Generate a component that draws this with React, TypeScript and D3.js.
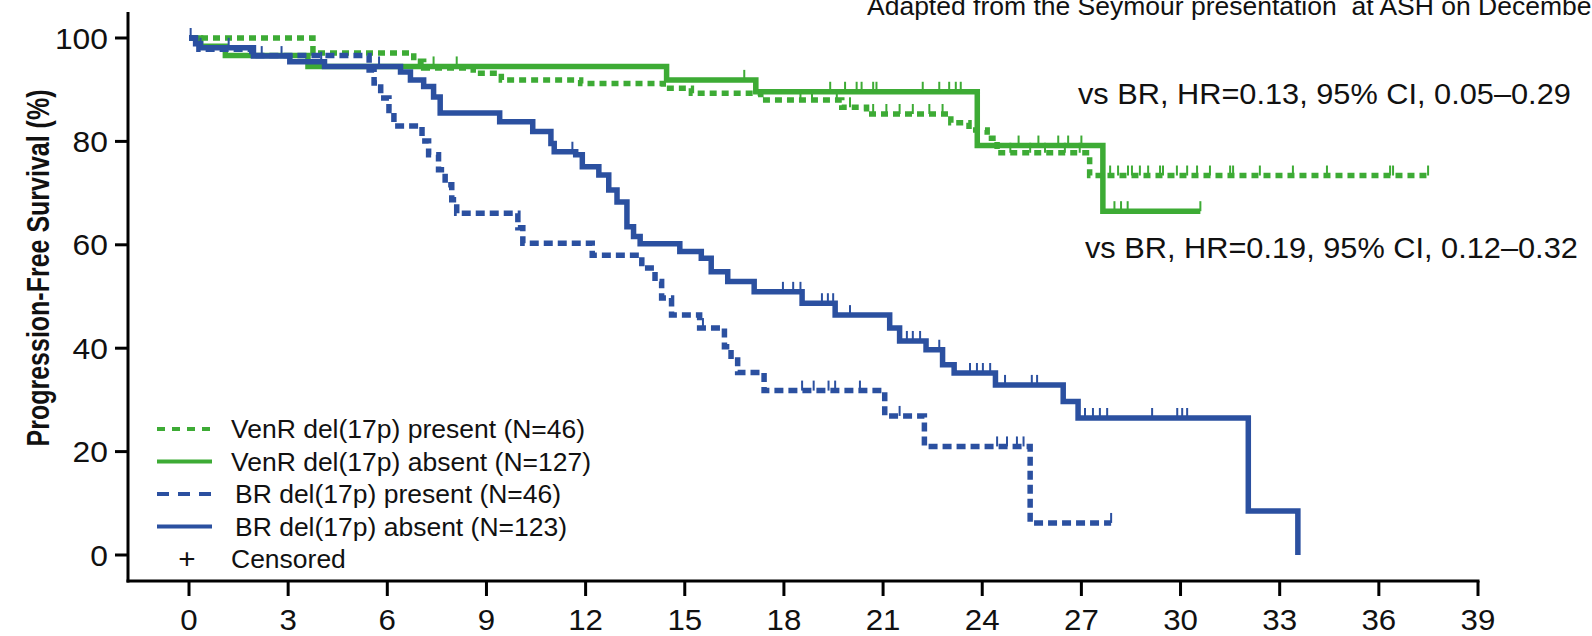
import React from 'react';
import * as d3 from 'd3';

const WIDTH = 1592;
const HEIGHT = 636;

const GREEN = '#3dab35';
const BLUE = '#2b50a0';
const FONT = '"Liberation Sans", Arial, Helvetica, sans-serif';
const SX = 1.06; // slight horizontal widening of the text

const xTicks = [0, 3, 6, 9, 12, 15, 18, 21, 24, 27, 30, 33, 36, 39];
const yTicks = [0, 20, 40, 60, 80, 100];

// Kaplan–Meier steps: [month, PFS %]
const venrPresentSteps: [number, number][] = [
  [0, 100], [3.75, 97.1], [6.8, 95.5], [7.1, 94.2], [8.6, 93.2], [9.45, 91.9],
  [11.85, 91.2], [14.35, 90.3], [15.2, 89.3], [17.3, 88.0], [19.75, 86.6],
  [20.5, 85.3], [23.05, 83.6], [23.6, 82.2], [24.15, 80.6], [24.45, 77.8],
  [27.25, 73.4],
];
const venrPresentEnd = 37.5;
const venrPresentCensored = [
  17.1, 18.5, 18.85, 19.6, 20.0, 20.7, 21.1, 21.5, 21.9, 22.4, 22.8,
  24.85, 25.45, 25.9, 26.5, 26.95,
  27.87, 28.11, 28.41, 28.53, 28.77, 29.02, 29.38, 29.47, 29.89, 30.2, 30.5,
  30.89, 31.5, 31.59, 32.4, 33.4, 34.43, 36.34, 36.43, 37.49,
];

const venrAbsentSteps: [number, number][] = [
  [0, 100], [0.35, 98.4], [1.1, 96.6], [3.6, 94.5], [14.45, 91.9],
  [17.15, 89.6], [23.85, 79.2], [27.65, 66.5],
];
const venrAbsentEnd = 30.6;
const venrAbsentCensored = [
  7.4, 8.1, 16.8, 19.4, 19.85, 20.2, 20.35, 20.7, 20.8, 22.2, 22.7, 23.0,
  23.2, 23.35, 25.1, 25.7, 26.3, 26.6, 27.0, 28.0, 28.2, 28.4, 30.6,
];

const brPresentSteps: [number, number][] = [
  [0, 100], [0.3, 97.8], [1.9, 96.6], [5.45, 93.8], [5.6, 91.3], [5.8, 88.4],
  [6.05, 86.0], [6.2, 83.0], [7.05, 80.1], [7.25, 77.4], [7.55, 74.5],
  [7.75, 71.6], [7.95, 68.7], [8.1, 66.1], [9.95, 63.3], [10.1, 60.3],
  [12.2, 58.0], [13.7, 55.5], [14.1, 52.9], [14.3, 49.7], [14.6, 46.4],
  [15.45, 43.9], [16.2, 40.3], [16.4, 37.7], [16.6, 35.3], [17.4, 31.8],
  [21.05, 26.9], [22.25, 21.0], [25.45, 6.2],
];
const brPresentEnd = 27.9;
const brPresentCensored = [
  15.55, 18.55, 18.9, 19.35, 19.55, 20.3, 21.5, 24.45, 24.75, 25.05, 25.25, 27.9,
];

const brAbsentSteps: [number, number][] = [
  [0, 100], [0.2, 98.9], [0.35, 98.1], [1.95, 96.5], [3.05, 95.4], [4.1, 94.5],
  [6.4, 93.4], [6.7, 91.9], [7.1, 90.6], [7.4, 88.6], [7.6, 85.5], [9.4, 83.8],
  [10.4, 81.9], [10.95, 79.6], [11.05, 78.0], [11.7, 77.4], [11.9, 75.1],
  [12.4, 73.5], [12.7, 70.6], [12.95, 68.3], [13.25, 63.5], [13.45, 61.6],
  [13.65, 60.2], [14.85, 58.7], [15.5, 57.4], [15.8, 54.8], [16.3, 52.9],
  [17.1, 50.9], [18.55, 48.7], [19.55, 46.4], [21.2, 43.9], [21.5, 41.4],
  [22.3, 39.7], [22.8, 36.8], [23.15, 35.2], [24.4, 32.9], [26.45, 29.7],
  [26.9, 26.5], [32.05, 8.5], [33.55, 0],
];
const brAbsentEnd = 33.55;
const brAbsentCensored = [
  0.05, 0.35, 1.2, 2.2, 2.8, 4.0, 5.75, 11.6, 17.97, 18.28, 18.5, 19.15, 19.33,
  19.49, 20.0, 21.72, 21.9, 22.12, 22.7, 23.63, 23.84, 24.02, 24.24, 24.69,
  25.5, 25.66, 27.11, 27.35, 27.56, 27.78, 29.14, 29.9, 30.05, 30.2,
];

const legendLabels = [
  'VenR del(17p) present (N=46)',
  'VenR del(17p) absent (N=127)',
  'BR del(17p) present (N=46)',
  'BR del(17p) absent (N=123)',
];

const hrLabels = [
  'vs BR, HR=0.13, 95% CI, 0.05\u20130.29',
  'vs BR, HR=0.19, 95% CI, 0.12\u20130.32',
];

const sourceNote = 'Adapted from the Seymour presentation  at ASH on December';

type Series = {
  steps: [number, number][];
  end: number;
  censored: number[];
  color: string;
  dash: string | undefined;
};

const series: Series[] = [
  { steps: venrPresentSteps, end: venrPresentEnd, censored: venrPresentCensored, color: GREEN, dash: '7 5' },
  { steps: venrAbsentSteps, end: venrAbsentEnd, censored: venrAbsentCensored, color: GREEN, dash: undefined },
  { steps: brPresentSteps, end: brPresentEnd, censored: brPresentCensored, color: BLUE, dash: '9 5' },
  { steps: brAbsentSteps, end: brAbsentEnd, censored: brAbsentCensored, color: BLUE, dash: undefined },
];

const legendStyles = [
  { color: GREEN, dash: '8 7' },
  { color: GREEN, dash: undefined },
  { color: BLUE, dash: '12 9' },
  { color: BLUE, dash: undefined },
];

const x = d3.scaleLinear().domain([0, 39]).range([189, 1478]);
const y = d3.scaleLinear().domain([0, 100]).range([555, 38]);

const stepLine = d3
  .line<[number, number]>()
  .x((d) => x(d[0]))
  .y((d) => y(d[1]))
  .curve(d3.curveStepAfter);

function valueAt(steps: [number, number][], t: number): number {
  let v = steps[0][1];
  for (const [st, sv] of steps) {
    if (st <= t) v = sv;
  }
  return v;
}

function SText(props: {
  x: number;
  y: number;
  size: number;
  anchor?: 'start' | 'middle' | 'end';
  weight?: string;
  children: React.ReactNode;
  pre?: boolean;
}) {
  return (
    <text
      transform={`translate(${props.x},${props.y}) scale(${SX},1)`}
      fontSize={props.size}
      fontFamily={FONT}
      fontWeight={props.weight || 'normal'}
      textAnchor={props.anchor || 'start'}
      fill="#111"
      style={props.pre ? { whiteSpace: 'pre' } : undefined}
    >
      {props.children}
    </text>
  );
}

export default function App() {
  const axisY = 581;
  const axisX = 128;

  return (
    <svg
      width={WIDTH}
      height={HEIGHT}
      viewBox={`0 0 ${WIDTH} ${HEIGHT}`}
      style={{ position: 'absolute', left: 0, top: 0, background: '#fff' }}
    >
      <rect x={0} y={0} width={WIDTH} height={HEIGHT} fill="#fff" />

      {/* source note, running past the top and right edges */}
      <SText x={867} y={15} size={25} pre>
        {sourceNote}
      </SText>

      {/* curves */}
      {series.map((s, i) => {
        const pts: [number, number][] = [...s.steps, [s.end, s.steps[s.steps.length - 1][1]]];
        return (
          <path
            key={`c${i}`}
            d={stepLine(pts) || ''}
            fill="none"
            stroke={s.color}
            strokeWidth={5.5}
            strokeDasharray={s.dash}
            strokeLinejoin="miter"
          />
        );
      })}

      {/* censor marks */}
      {series.map((s, i) => (
        <g key={`m${i}`} stroke={s.color} strokeWidth={2}>
          {s.censored.map((t, j) => {
            const cy = y(valueAt(s.steps, t));
            return <line key={j} x1={x(t)} x2={x(t)} y1={cy} y2={cy - 10} />;
          })}
        </g>
      ))}

      {/* y axis */}
      <line x1={axisX} x2={axisX} y1={12} y2={axisY + 1.5} stroke="#000" strokeWidth={3} />
      {yTicks.map((v) => (
        <g key={`y${v}`}>
          <line x1={axisX - 13} x2={axisX} y1={y(v)} y2={y(v)} stroke="#000" strokeWidth={3} />
          <SText x={108} y={y(v) + 10.5} size={30} anchor="end">
            {v}
          </SText>
        </g>
      ))}
      <text
        transform={`translate(49,268) rotate(-90) scale(1,1.28)`}
        fontSize={25}
        fontWeight="bold"
        fontFamily={FONT}
        textAnchor="middle"
        fill="#111"
      >
        Progression-Free Survival (%)
      </text>

      {/* x axis */}
      <line x1={axisX - 1.5} x2={x(39) + 1.5} y1={axisY} y2={axisY} stroke="#000" strokeWidth={3} />
      {xTicks.map((v) => (
        <g key={`x${v}`}>
          <line x1={x(v)} x2={x(v)} y1={axisY} y2={axisY + 15} stroke="#000" strokeWidth={3} />
          <SText x={x(v)} y={630} size={29.5} anchor="middle">
            {v}
          </SText>
        </g>
      ))}

      {/* hazard ratio notes */}
      <SText x={1078} y={104} size={29}>
        {hrLabels[0]}
      </SText>
      <SText x={1085} y={258} size={29}>
        {hrLabels[1]}
      </SText>

      {/* legend */}
      {legendLabels.map((label, i) => {
        const cy = 429 + i * 32.5;
        const st = legendStyles[i];
        return (
          <g key={`l${i}`}>
            <line x1={157} x2={212} y1={cy} y2={cy} stroke={st.color} strokeWidth={4} strokeDasharray={st.dash} />
            <SText x={i < 2 ? 231 : 235} y={cy + 9} size={25}>
              {label}
            </SText>
          </g>
        );
      })}
      <SText x={187} y={568} size={28} anchor="middle">
        +
      </SText>
      <SText x={231} y={568} size={25}>
        Censored
      </SText>
    </svg>
  );
}
